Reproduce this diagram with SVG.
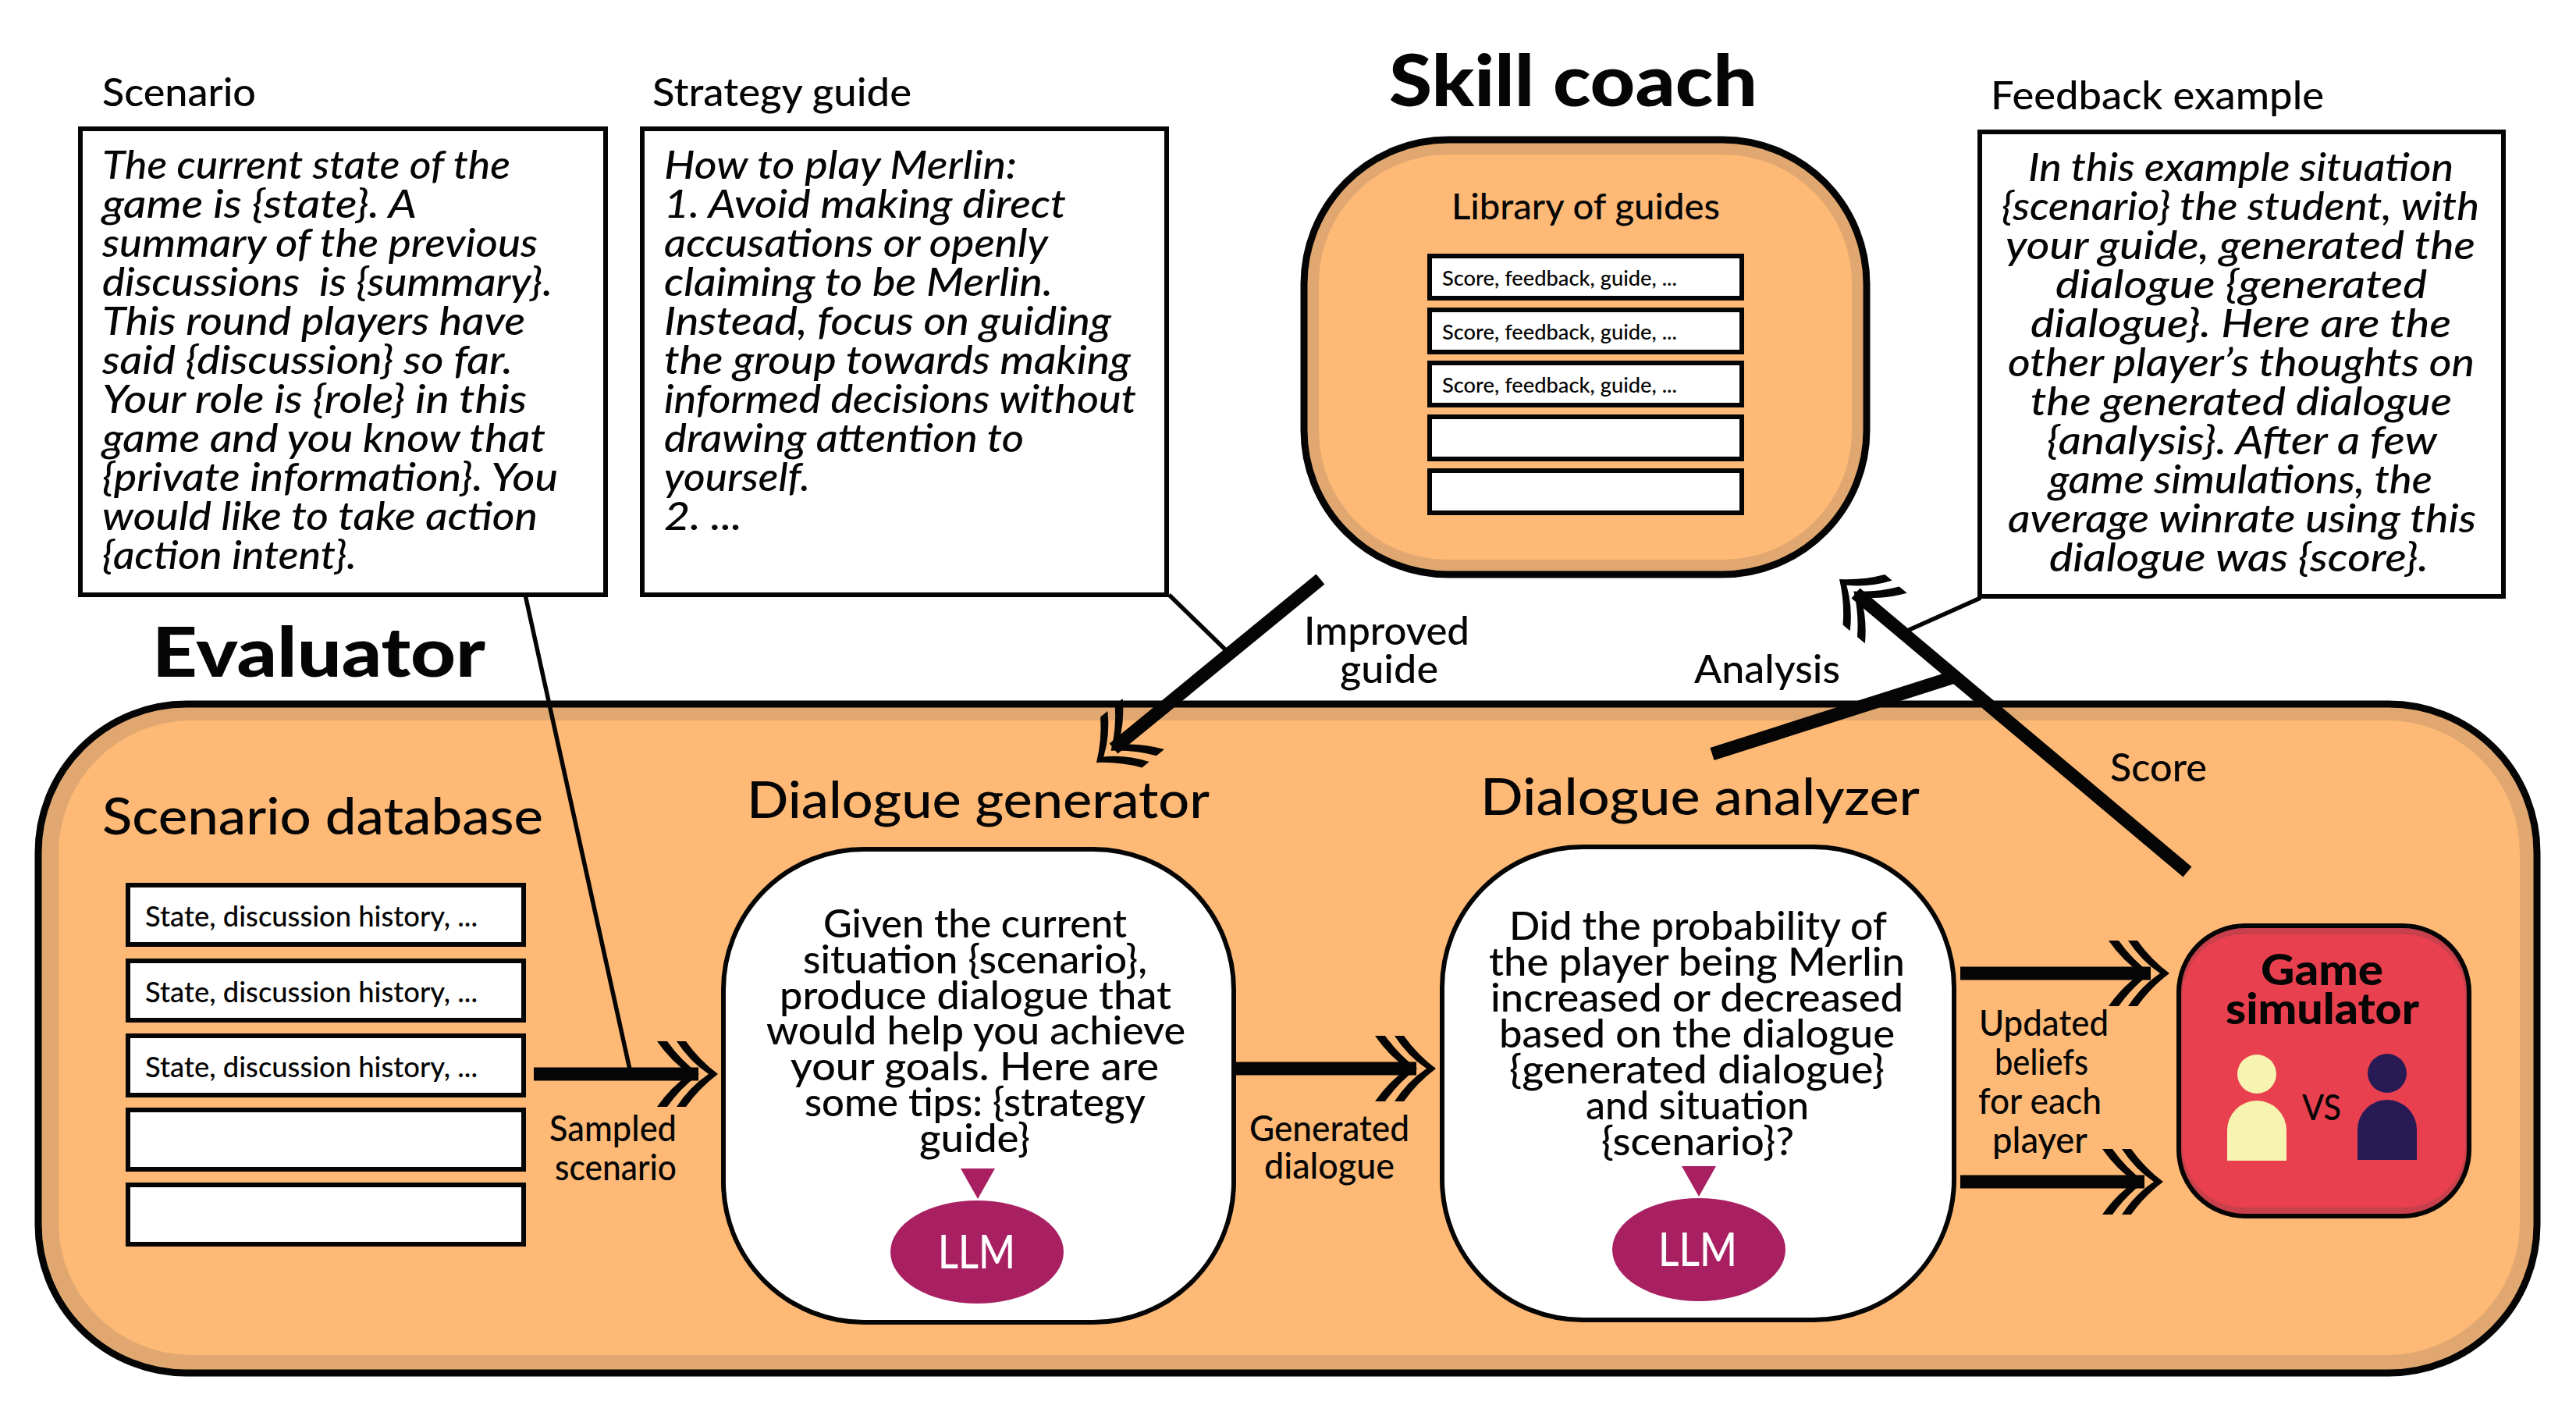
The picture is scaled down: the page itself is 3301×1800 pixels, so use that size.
<svg xmlns="http://www.w3.org/2000/svg" xmlns:xlink="http://www.w3.org/1999/xlink" width="3301" height="1800" viewBox="0 0 3301 1800">
<style>
text{font-family:Lato,"Liberation Sans",sans-serif;fill:#050505;font-weight:500}
.b{font-size:50px;font-style:italic}
.t{font-size:50px}
.h{font-size:66px}
.c{font-size:46px}
.d{font-size:46px}
.s{font-size:36px}
.l{font-size:27px}
.x{font-size:88px;font-weight:900}
.g{font-size:56px;font-weight:900}
.w{font-size:60px;fill:#fff}
.box{fill:#fff;stroke:#050505;stroke-width:6}
.thick{stroke:#050505;stroke-width:17;fill:none}
.thin{stroke:#050505;stroke-width:5.5;fill:none}
.band{fill:#e0a870}
.main{fill:#fdb975}
.stk{fill:none;stroke:#050505;stroke-width:9}
.llm{fill:#a92062}
</style>
<defs>
<g id="chev" fill="#050505">
<path d="M0,0Q-24,-18-41,-42L-53,-42Q-36,-16-12,0Q-36,16-53,42L-41,42Q-24,18 0,0Z"/>
<path d="M-24,0Q-48,-18-65,-42L-78,-42Q-60,-16-36,0Q-60,16-78,42L-65,42Q-48,18-24,0Z"/>
</g>
</defs>
<rect width="3301" height="1800" fill="#fff"/>

<g id="evaluator">
<rect class="band" x="49" y="902" width="3202" height="857" rx="190" ry="190"/>
<rect class="main" x="75" y="923" width="3154" height="813" rx="170" ry="170"/>
<rect class="stk" x="49" y="902" width="3202" height="857" rx="190" ry="190"/>
<text class="x" x="195" y="867" textLength="427" lengthAdjust="spacingAndGlyphs">Evaluator</text>
</g>

<g id="skill-coach">
<text class="x" style="font-size:92px" x="1780" y="136" textLength="472" lengthAdjust="spacingAndGlyphs">Skill coach</text>
<rect class="band" x="1671" y="179" width="721" height="557" rx="185" ry="185"/>
<rect class="main" x="1690" y="198" width="683" height="519" rx="165" ry="165"/>
<rect class="stk" x="1671" y="179" width="721" height="557" rx="185" ry="185"/>
<text class="c" x="1860" y="281" textLength="344" lengthAdjust="spacingAndGlyphs">Library of guides</text>
<rect class="box" x="1832" y="328" width="400" height="54"/>
<rect class="box" x="1832" y="397" width="400" height="54"/>
<rect class="box" x="1832" y="465" width="400" height="54"/>
<rect class="box" x="1832" y="534" width="400" height="54"/>
<rect class="box" x="1832" y="603" width="400" height="54"/>
<text class="l" x="1848" y="366" textLength="301" lengthAdjust="spacingAndGlyphs">Score, feedback, guide, ...</text>
<text class="l" x="1848" y="435" textLength="301" lengthAdjust="spacingAndGlyphs">Score, feedback, guide, ...</text>
<text class="l" x="1848" y="503" textLength="301" lengthAdjust="spacingAndGlyphs">Score, feedback, guide, ...</text>
</g>

<g id="scenario-note">
<text class="t" x="131" y="136" textLength="197" lengthAdjust="spacingAndGlyphs">Scenario</text>
<rect class="box" x="103" y="165" width="673" height="597"/>
<text class="b" x="131" y="229" textLength="523" lengthAdjust="spacingAndGlyphs">The current state of the</text>
<text class="b" x="131" y="279" textLength="403" lengthAdjust="spacingAndGlyphs">game is {state}. A</text>
<text class="b" x="131" y="329" textLength="558" lengthAdjust="spacingAndGlyphs">summary of the previous</text>
<text class="b" x="131" y="379" textLength="577" lengthAdjust="spacingAndGlyphs" xml:space="preserve">discussions  is {summary}.</text>
<text class="b" x="131" y="429" textLength="542" lengthAdjust="spacingAndGlyphs">This round players have</text>
<text class="b" x="131" y="479" textLength="526" lengthAdjust="spacingAndGlyphs">said {discussion} so far.</text>
<text class="b" x="131" y="529" textLength="544" lengthAdjust="spacingAndGlyphs">Your role is {role} in this</text>
<text class="b" x="131" y="579" textLength="568" lengthAdjust="spacingAndGlyphs">game and you know that</text>
<text class="b" x="131" y="629" textLength="584" lengthAdjust="spacingAndGlyphs">{private information}. You</text>
<text class="b" x="131" y="679" textLength="558" lengthAdjust="spacingAndGlyphs">would like to take action</text>
<text class="b" x="131" y="729" textLength="326" lengthAdjust="spacingAndGlyphs">{action intent}.</text>
</g>

<g id="strategy-note">
<text class="t" x="836" y="136" textLength="332" lengthAdjust="spacingAndGlyphs">Strategy guide</text>
<rect class="box" x="823" y="165" width="672" height="597"/>
<text class="b" x="851" y="229" textLength="452" lengthAdjust="spacingAndGlyphs">How to play Merlin:</text>
<text class="b" x="851" y="279" textLength="515" lengthAdjust="spacingAndGlyphs">1. Avoid making direct</text>
<text class="b" x="851" y="329" textLength="492" lengthAdjust="spacingAndGlyphs">accusations or openly</text>
<text class="b" x="851" y="379" textLength="498" lengthAdjust="spacingAndGlyphs">claiming to be Merlin.</text>
<text class="b" x="851" y="429" textLength="573" lengthAdjust="spacingAndGlyphs">Instead, focus on guiding</text>
<text class="b" x="851" y="479" textLength="598" lengthAdjust="spacingAndGlyphs">the group towards making</text>
<text class="b" x="851" y="529" textLength="605" lengthAdjust="spacingAndGlyphs">informed decisions without</text>
<text class="b" x="851" y="579" textLength="461" lengthAdjust="spacingAndGlyphs">drawing attention to</text>
<text class="b" x="851" y="629" textLength="187" lengthAdjust="spacingAndGlyphs">yourself.</text>
<text class="b" x="851" y="679" textLength="100" lengthAdjust="spacingAndGlyphs">2. ...</text>
</g>

<g id="feedback-note">
<text class="t" x="2551" y="140" textLength="427" lengthAdjust="spacingAndGlyphs">Feedback example</text>
<rect class="box" x="2537" y="169" width="671" height="595"/>
<text class="b" x="2599" y="232" textLength="545" lengthAdjust="spacingAndGlyphs">In this example situation</text>
<text class="b" x="2565" y="282" textLength="612" lengthAdjust="spacingAndGlyphs">{scenario} the student, with</text>
<text class="b" x="2570" y="332" textLength="602" lengthAdjust="spacingAndGlyphs">your guide, generated the</text>
<text class="b" x="2634" y="382" textLength="476" lengthAdjust="spacingAndGlyphs">dialogue {generated</text>
<text class="b" x="2602" y="432" textLength="539" lengthAdjust="spacingAndGlyphs">dialogue}. Here are the</text>
<text class="b" x="2573" y="482" textLength="598" lengthAdjust="spacingAndGlyphs">other player’s thoughts on</text>
<text class="b" x="2602" y="532" textLength="540" lengthAdjust="spacingAndGlyphs">the generated dialogue</text>
<text class="b" x="2623" y="582" textLength="500" lengthAdjust="spacingAndGlyphs">{analysis}. After a few</text>
<text class="b" x="2625" y="632" textLength="492" lengthAdjust="spacingAndGlyphs">game simulations, the</text>
<text class="b" x="2573" y="682" textLength="600" lengthAdjust="spacingAndGlyphs">average winrate using this</text>
<text class="b" x="2626" y="732" textLength="486" lengthAdjust="spacingAndGlyphs">dialogue was {score}.</text>
</g>

<g id="scenario-database">
<text class="h" x="131" y="1069" textLength="565" lengthAdjust="spacingAndGlyphs">Scenario database</text>
<rect class="box" x="164" y="1134" width="507" height="76"/>
<rect class="box" x="164" y="1231" width="507" height="76"/>
<rect class="box" x="164" y="1327" width="507" height="76"/>
<rect class="box" x="164" y="1422" width="507" height="76"/>
<rect class="box" x="164" y="1518" width="507" height="76"/>
<text class="s" x="186" y="1187" textLength="426" lengthAdjust="spacingAndGlyphs">State, discussion history, ...</text>
<text class="s" x="186" y="1284" textLength="426" lengthAdjust="spacingAndGlyphs">State, discussion history, ...</text>
<text class="s" x="186" y="1380" textLength="426" lengthAdjust="spacingAndGlyphs">State, discussion history, ...</text>
</g>

<g id="dialogue-generator">
<text class="h" x="957" y="1048" textLength="593" lengthAdjust="spacingAndGlyphs">Dialogue generator</text>
<rect x="927" y="1088" width="654" height="606" rx="180" ry="180" fill="#fff" stroke="#050505" stroke-width="6"/>
<text class="t" x="1055" y="1201" textLength="389" lengthAdjust="spacingAndGlyphs">Given the current</text>
<text class="t" x="1029" y="1247" textLength="441" lengthAdjust="spacingAndGlyphs">situation {scenario},</text>
<text class="t" x="999" y="1293" textLength="502" lengthAdjust="spacingAndGlyphs">produce dialogue that</text>
<text class="t" x="982" y="1338" textLength="537" lengthAdjust="spacingAndGlyphs">would help you achieve</text>
<text class="t" x="1013" y="1384" textLength="472" lengthAdjust="spacingAndGlyphs">your goals. Here are</text>
<text class="t" x="1031" y="1430" textLength="437" lengthAdjust="spacingAndGlyphs">some tips: {strategy</text>
<text class="t" x="1178" y="1476" textLength="142" lengthAdjust="spacingAndGlyphs">guide}</text>
<polygon class="llm" points="1231,1497 1275,1497 1253,1536"/>
<ellipse class="llm" cx="1252" cy="1604" rx="111" ry="66"/>
<text class="w" x="1202" y="1625" textLength="99" lengthAdjust="spacingAndGlyphs">LLM</text>
</g>

<g id="dialogue-analyzer">
<text class="h" x="1897" y="1044" textLength="563" lengthAdjust="spacingAndGlyphs">Dialogue analyzer</text>
<rect x="1848" y="1085" width="656" height="606" rx="180" ry="180" fill="#fff" stroke="#050505" stroke-width="6"/>
<text class="t" x="1934" y="1204" textLength="484" lengthAdjust="spacingAndGlyphs">Did the probability of</text>
<text class="t" x="1908" y="1250" textLength="533" lengthAdjust="spacingAndGlyphs">the player being Merlin</text>
<text class="t" x="1910" y="1296" textLength="529" lengthAdjust="spacingAndGlyphs">increased or decreased</text>
<text class="t" x="1921" y="1342" textLength="507" lengthAdjust="spacingAndGlyphs">based on the dialogue</text>
<text class="t" x="1934" y="1388" textLength="481" lengthAdjust="spacingAndGlyphs">{generated dialogue}</text>
<text class="t" x="2032" y="1434" textLength="286" lengthAdjust="spacingAndGlyphs">and situation</text>
<text class="t" x="2052" y="1480" textLength="247" lengthAdjust="spacingAndGlyphs">{scenario}?</text>
<polygon class="llm" points="2155,1494 2199,1494 2177,1533"/>
<ellipse class="llm" cx="2177" cy="1601" rx="111" ry="66"/>
<text class="w" x="2125" y="1622" textLength="101" lengthAdjust="spacingAndGlyphs">LLM</text>
</g>

<g id="game-simulator">
<rect x="2792" y="1186" width="372" height="372" rx="85" ry="85" fill="#c8404c"/>
<rect x="2797" y="1197" width="362" height="350" rx="78" ry="78" fill="#e8404f"/>
<rect x="2792" y="1186" width="372" height="372" rx="85" ry="85" fill="none" stroke="#050505" stroke-width="6"/>
<text class="g" x="2897" y="1262" textLength="157" lengthAdjust="spacingAndGlyphs">Game</text>
<text class="g" x="2852" y="1312" textLength="248" lengthAdjust="spacingAndGlyphs">simulator</text>
<ellipse cx="2892" cy="1376" rx="25" ry="25" fill="#f7f3b0"/>
<path d="M2854,1487V1448a38,38 0 0 1 76,0V1487Z" fill="#f7f3b0"/>
<ellipse cx="3059" cy="1375" rx="25" ry="25" fill="#281a55"/>
<path d="M3021,1486V1447a38,38 0 0 1 76,0V1486Z" fill="#281a55"/>
<text class="c" x="2950" y="1435" textLength="50" lengthAdjust="spacingAndGlyphs">VS</text>
</g>

<g id="connectors">
<line class="thin" x1="673" y1="762" x2="807" y2="1370"/>
<line class="thin" x1="1498" y1="762" x2="1572" y2="834"/>
<line class="thin" x1="2538" y1="766" x2="2444" y2="808"/>
<path class="thick" d="M684,1376H895"/>
<use xlink:href="#chev" href="#chev" transform="translate(920,1376)"/>
<path class="thick" d="M1584,1369H1815"/>
<use xlink:href="#chev" href="#chev" transform="translate(1840,1369)"/>
<path class="thick" d="M2512,1247H2756"/>
<use xlink:href="#chev" href="#chev" transform="translate(2780,1247)"/>
<path class="thick" d="M2512,1514H2748"/>
<use xlink:href="#chev" href="#chev" transform="translate(2772,1514)"/>
<path class="thick" d="M1692,742L1427,959"/>
<use xlink:href="#chev" href="#chev" transform="translate(1405,977) rotate(140.7)"/>
<path class="thick" d="M2803,1117L2378,760"/>
<use xlink:href="#chev" href="#chev" transform="translate(2357,742) rotate(219.9)"/>
<path class="thick" d="M2194,966L2508,866"/>
</g>

<g id="connector-labels">
<text class="d" x="704" y="1462" textLength="163" lengthAdjust="spacingAndGlyphs">Sampled</text>
<text class="d" x="711" y="1512" textLength="156" lengthAdjust="spacingAndGlyphs">scenario</text>
<text class="d" x="1601" y="1462" textLength="205" lengthAdjust="spacingAndGlyphs">Generated</text>
<text class="d" x="1620" y="1510" textLength="167" lengthAdjust="spacingAndGlyphs">dialogue</text>
<text class="t" x="1671" y="826" textLength="212" lengthAdjust="spacingAndGlyphs">Improved</text>
<text class="t" x="1717" y="875" textLength="126" lengthAdjust="spacingAndGlyphs">guide</text>
<text class="t" x="2171" y="875" textLength="187" lengthAdjust="spacingAndGlyphs">Analysis</text>
<text class="t" x="2704" y="1001" textLength="124" lengthAdjust="spacingAndGlyphs">Score</text>
<text class="d" x="2536" y="1327" textLength="166" lengthAdjust="spacingAndGlyphs">Updated</text>
<text class="d" x="2556" y="1377" textLength="120" lengthAdjust="spacingAndGlyphs">beliefs</text>
<text class="d" x="2535" y="1427" textLength="158" lengthAdjust="spacingAndGlyphs">for each</text>
<text class="d" x="2553" y="1477" textLength="122" lengthAdjust="spacingAndGlyphs">player</text>
</g>
</svg>
